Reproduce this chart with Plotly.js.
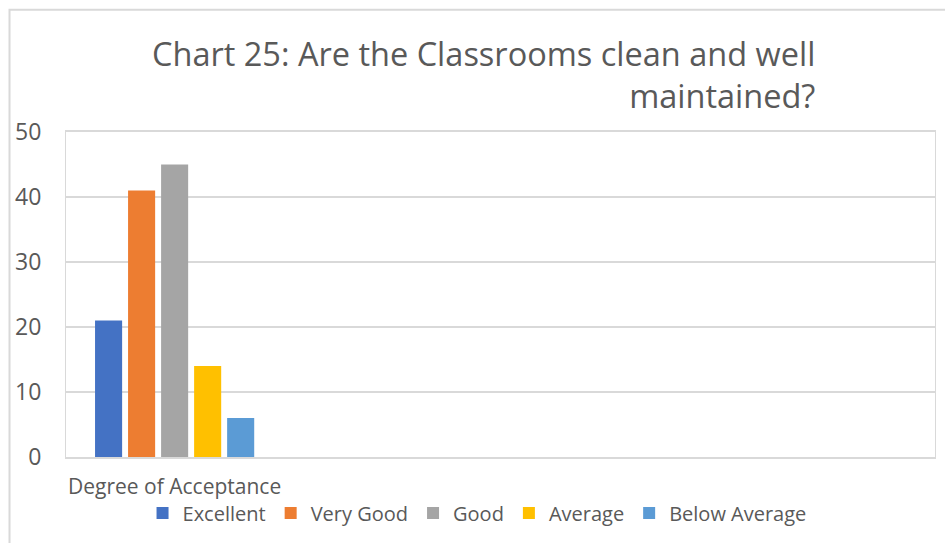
<!DOCTYPE html>
<html>
<head>
<meta charset="utf-8">
<script src="https://cdn.plot.ly/plotly-3.0.1.min.js"></script>
<style>
html,body{margin:0;padding:0;background:#fff;}
#chart{width:945px;height:543px;}
</style>
</head>
<body>
<div id="chart"></div>
<script>
const categories = ["Degree of Acceptance"];
const seriesNames = ["Excellent", "Very Good", "Good", "Average", "Below Average"];
const seriesValues = [[21], [41], [45], [14], [6]];
const seriesColors = ["#4472C4", "#ED7D31", "#A5A5A5", "#FFC000", "#5B9BD5"];
const yTicks = [0, 10, 20, 30, 40, 50];
const titleText = "Chart 25: Are the Classrooms clean and well<br>maintained?";

const FONT = "Open Sans, Noto Sans, sans-serif";
const TXT = "#595959";

const traces = seriesNames.map((n, i) => ({
  type: "bar",
  name: n,
  x: categories,
  y: seriesValues[i],
  marker: {color: seriesColors[i]},
  hoverinfo: "x+y+name"
}));

const layout = {
  width: 945,
  height: 543,
  margin: {l: 66, r: 10, t: 131.7, b: 86.3, pad: 0},
  paper_bgcolor: "#ffffff",
  plot_bgcolor: "#ffffff",
  font: {family: FONT, color: TXT},
  barmode: "group",
  bargap: 0.24,
  bargroupgap: 0.18,
  showlegend: true,
  legend: {
    orientation: "h",
    x: 0.473, xanchor: "center",
    y: -0.172, yanchor: "middle",
    bgcolor: "rgba(0,0,0,0)",
    font: {family: FONT, size: 20, color: TXT},
    itemclick: false
  },
  xaxis: {
    type: "category",
    range: [-0.5, 3.5],
    showgrid: false,
    showline: true,
    linecolor: "#d9d9d9",
    linewidth: 2,
    mirror: true,
    ticks: "",
    ticklabelstandoff: 10,
    tickfont: {family: FONT, size: 21, color: TXT},
    fixedrange: true
  },
  yaxis: {
    range: [0, 50],
    tickvals: yTicks,
    ticktext: yTicks.map(String),
    showgrid: true,
    gridcolor: "#d9d9d9",
    gridwidth: 1.5,
    zeroline: false,
    showline: true,
    linecolor: "#d9d9d9",
    linewidth: 1,
    mirror: true,
    ticks: "",
    ticklabelstandoff: 19,
    tickfont: {family: FONT, size: 23, color: TXT},
    fixedrange: true
  },
  annotations: [{
    text: titleText,
    xref: "paper", yref: "paper",
    x: 0.864, xanchor: "right",
    y: 1.318, yanchor: "top",
    align: "right",
    showarrow: false,
    font: {family: FONT, size: 32.5, color: TXT}
  }],
  shapes: [{
    type: "rect",
    xref: "paper", yref: "paper",
    x0: -0.065, x1: 1.02,
    y0: -0.3, y1: 1.376,
    line: {color: "#d9d9d9", width: 2},
    fillcolor: "rgba(0,0,0,0)",
    layer: "below"
  }]
};

Plotly.newPlot("chart", traces, layout, {displayModeBar: false});
</script>
</body>
</html>
